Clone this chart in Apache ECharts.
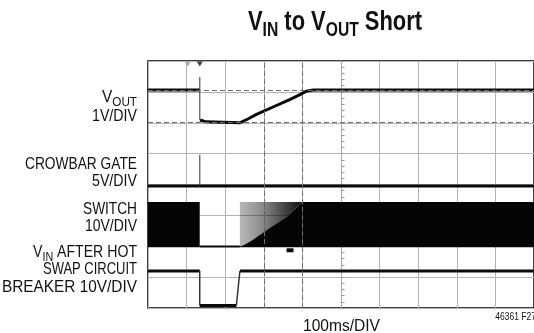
<!DOCTYPE html>
<html>
<head>
<meta charset="utf-8">
<script src="https://cdn.jsdelivr.net/npm/echarts@6/dist/echarts.min.js"></script>
<style>
  html, body { margin: 0; padding: 0; background: #fff; }
  #chart { width: 534px; height: 333px; }
</style>
</head>
<body>
<div id="chart"></div>
<script>
// Scope capture: 100 ms per horizontal division, 10 x 8 graticule.
// Trace levels are given in graticule divisions counted up from the bottom edge.
const timeSpan = [0, 1000];
const timeStep = 100;
const levelSpan = [0, 8];

// V_OUT, 1V/DIV (null breaks the trace where the fast edge is drawn thin)
const voutTrace = [[0, 7.06], [134, 7.06], [134, null], [135, 6.09], [150, 6.03], [238, 6.0],
  [260, 6.13], [281, 6.27], [324, 6.51], [367, 6.75], [395, 6.92], [410, 7.02], [428, 7.06], [1000, 7.06]];
const voutEdge = [[134.2, 7.48], [134.2, 6.08]];

// CROWBAR GATE, 5V/DIV
const crowbarTrace = [[0, 3.95], [1000, 3.95]];
const crowbarEdge = [[134.2, 3.95], [134.2, 4.96]];

// SWITCH, 10V/DIV: envelope of the switching burst
const switchHigh = 3.43;
const switchLow = 1.97;
const switchOnSpans = [[0, 134], [400, 1000]];
const switchFloor = [[134, 1.99], [238, 1.99]];
const switchRampEdge = [[238, 1.99], [250, 2.05], [271, 2.2], [315, 2.59], [359, 2.95], [400, 3.43]];
const switchGlitch = [[359, 1.87], [377, 1.87]];

// V_IN after the hot swap circuit breaker, 10V/DIV
const vinTrace = [[0, 1.2], [134, 1.2], [134, null], [134, 0.08], [229, 0.08], [229, null], [238, 1.2], [1000, 1.2]];
const vinEdges = [[134, 1.2], [134, 0.08], [134, null], [229, 0.08], [238, 1.2]];

// Cursors and trigger markers
const cursorLevels = [7.06, 6.02];
const cursorTimes = [300, 400];
const triggerTimes = [103, 134];

// Channel captions, one entry per text line
const captionLines = ['{b|V}{s|OUT}', '1V/DIV', 'CROWBAR GATE', '5V/DIV', 'SWITCH', '10V/DIV',
  '{b|V}{s|IN}{b| AFTER HOT}', 'SWAP CIRCUIT', 'BREAKER 10V/DIV'];
const titleText = '{b|V}{s|IN}{b| to V}{s|OUT}{b| Short}';
const timeBaseText = '100ms/DIV';
const figureId = '46361 F27';

// Layout of the captions: vertical centre and rendered width of each line (px)
const captionY = [99, 116, 164, 181, 209, 226, 254, 269, 287];
const captionW = [35, 45, 112, 45, 54, 52, 104, 94, 135];

const FONT = "'Liberation Sans', Arial, sans-serif";
const BASE_SIZE = 16.5, SUB_SIZE = 12.5;

// Width measurement so each condensed caption can be squeezed to its width
const measureCtx = document.createElement('canvas').getContext('2d');
function measure(str, baseSize, subSize, weight) {
  const w = weight || 'normal';
  const parts = [];
  if (str.indexOf('{') >= 0) {
    str.replace(/\{(\w)\|([^}]*)\}/g, (m, k, t) => { parts.push([t, k === 's' ? subSize : baseSize]); return m; });
  } else {
    parts.push([str, baseSize]);
  }
  return parts.reduce((sum, [t, size]) => {
    measureCtx.font = w + ' ' + size + 'px ' + FONT;
    return sum + measureCtx.measureText(t).width;
  }, 0);
}

// Polygons of the SWITCH band, in data units
const switchPolys = [];
switchOnSpans.forEach(([t0, t1]) => {
  switchPolys.push({ pts: [[t0, switchLow], [t1, switchLow], [t1, switchHigh], [t0, switchHigh]], kind: 'solid' });
});
const rampStart = switchRampEdge[0][0];
const rampEnd = switchRampEdge[switchRampEdge.length - 1][0];
switchPolys.push({ pts: [[rampStart, switchLow]].concat(switchRampEdge, [[rampEnd, switchLow]]), kind: 'solid' });
switchPolys.push({ pts: switchRampEdge.concat([[rampEnd, switchHigh], [rampStart, switchHigh]]), kind: 'burst' });

const chart = echarts.init(document.getElementById('chart'), null, { renderer: 'canvas' });

const thick = (data) => ({
  type: 'line', data, showSymbol: false, symbol: 'none', connectNulls: false, z: 4,
  lineStyle: { color: '#0a0a0a', width: 3 }, animation: false, silent: true
});
const thin = (data, w) => ({
  type: 'line', data, showSymbol: false, symbol: 'none', connectNulls: false, z: 4,
  lineStyle: { color: '#333', width: w }, animation: false, silent: true
});

const richCaption = {
  b: { fontFamily: FONT, fontSize: BASE_SIZE, verticalAlign: 'bottom', padding: [0, 0, 3, 0], color: '#111' },
  s: { fontFamily: FONT, fontSize: SUB_SIZE, verticalAlign: 'bottom', color: '#111' }
};

function text(str, x, y, scaleX, opts) {
  return {
    type: 'text', x, y, scaleX, silent: true,
    style: Object.assign({ text: str, font: BASE_SIZE + 'px ' + FONT, fill: '#111', align: 'right', verticalAlign: 'middle' }, opts || {})
  };
}

const captions = captionLines.map((str, i) => {
  const rich = str.indexOf('{') >= 0;
  const sx = captionW[i] / measure(str, BASE_SIZE, SUB_SIZE);
  return text(str, 137, captionY[i], sx, rich ? { rich: richCaption } : null);
});

const option = {
  animation: false,
  grid: { left: 148, top: 61, width: 387, height: 247, show: true, borderColor: '#000', borderWidth: 1.5, backgroundColor: '#fff' },
  xAxis: {
    type: 'value', min: timeSpan[0], max: timeSpan[1], interval: timeStep,
    axisLine: { show: false }, axisTick: { show: false }, axisLabel: { show: false },
    splitLine: { show: true, lineStyle: { color: '#b4b4b4', width: 1 } }
  },
  yAxis: [{
    type: 'value', min: levelSpan[0], max: levelSpan[1], interval: 1,
    axisLine: { show: false }, axisTick: { show: false }, axisLabel: { show: false },
    splitLine: { show: true, lineStyle: { color: '#b4b4b4', width: 1 } }
  }, {
    // centre graticule line with its minor ticks
    type: 'value', min: levelSpan[0], max: levelSpan[1], interval: 1, position: 'left', offset: -193.5,
    axisLine: { show: true, lineStyle: { color: '#aaa', width: 1 } },
    axisTick: { show: true, inside: true, length: 3, lineStyle: { color: '#999' } },
    minorTick: { show: true, splitNumber: 5, length: 3, lineStyle: { color: '#999' } },
    axisLabel: { show: false }, splitLine: { show: false }
  }],
  series: [
    {
      type: 'line', data: [], z: 2, silent: true,
      markLine: {
        silent: true, symbol: 'none', label: { show: false }, animation: false,
        lineStyle: { color: '#707070', width: 1, type: [5, 3] },
        data: cursorLevels.map(v => ({ yAxis: v })).concat(cursorTimes.map(t => ({ xAxis: t })))
      }
    },
    {
      type: 'custom', z: 3, silent: true, animation: false,
      data: switchPolys.map((p, i) => [i, 0]),
      renderItem: (params, api) => {
        const poly = switchPolys[params.dataIndex];
        const points = poly.pts.map(p => api.coord(p));
        const fill = poly.kind === 'solid' ? '#050505' : new echarts.graphic.LinearGradient(0, 0, 1, 0, [
          { offset: 0, color: 'rgba(0,0,0,0.28)' },
          { offset: 0.35, color: 'rgba(0,0,0,0.45)' },
          { offset: 0.7, color: 'rgba(0,0,0,0.72)' },
          { offset: 1, color: 'rgba(0,0,0,0.95)' }
        ]);
        return { type: 'polygon', shape: { points }, style: { fill } };
      }
    },
    thick(voutTrace),
    thin(voutEdge, 1),
    thick(crowbarTrace),
    thin(crowbarEdge, 1),
    Object.assign(thick(switchFloor), { lineStyle: { color: '#0a0a0a', width: 2 } }),
    Object.assign(thick(switchGlitch), { lineStyle: { color: '#0a0a0a', width: 4 } }),
    thick(vinTrace),
    thin(vinEdges, 1.5),
    {
      type: 'scatter', z: 5, silent: true, symbol: 'triangle', symbolRotate: 180, symbolSize: [6, 5], symbolOffset: [0, 3],
      data: triggerTimes.map((t, i) => ({ value: [t, levelSpan[1]], itemStyle: { color: i === 0 ? '#999' : '#111' } }))
    }
  ],
  graphic: [
    text(titleText, 335, 24, 174 / measure(titleText, 28, 20, 'bold'), {
      align: 'center',
      rich: {
        b: { fontFamily: FONT, fontWeight: 'bold', fontSize: 28, verticalAlign: 'bottom', padding: [0, 0, 4, 0], color: '#111' },
        s: { fontFamily: FONT, fontWeight: 'bold', fontSize: 20, verticalAlign: 'bottom', color: '#111' }
      }
    }),
    ...captions,
    text(timeBaseText, 341.5, 326, 77 / measure(timeBaseText, BASE_SIZE), { align: 'center' }),
    text(figureId, 536, 317, 0.85, { font: '10px ' + FONT })
  ]
};

chart.setOption(option);
</script>
</body>
</html>
